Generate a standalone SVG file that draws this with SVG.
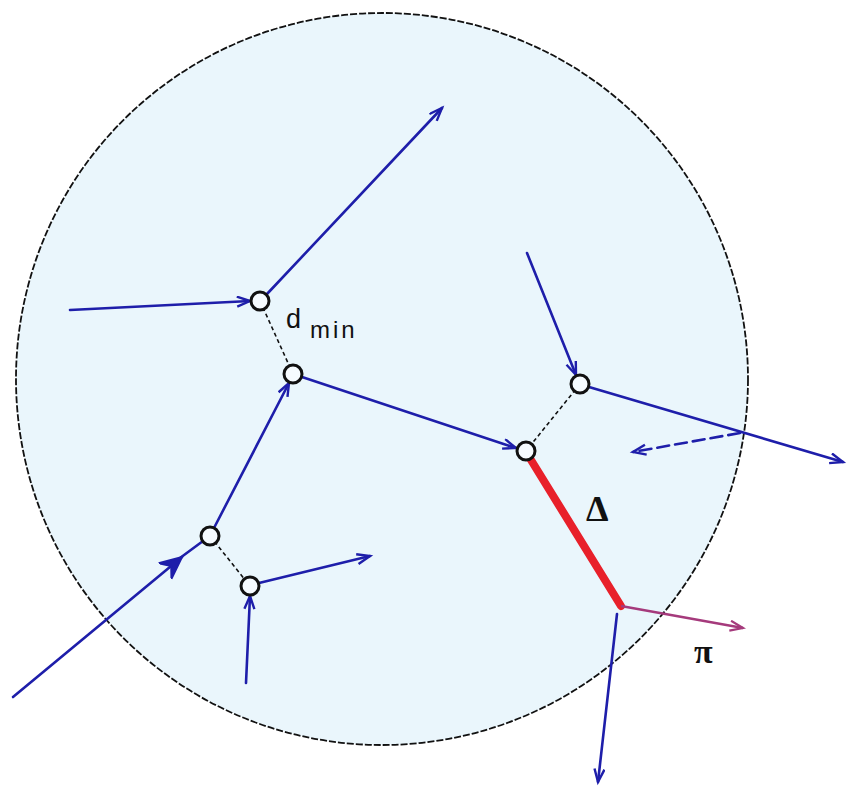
<svg xmlns="http://www.w3.org/2000/svg" width="848" height="787" viewBox="0 0 848 787">
<style>
.blue{stroke:#1e1eaa;stroke-width:2.6;fill:none;stroke-linecap:round}
.dash{stroke:#111;stroke-width:1.6;stroke-dasharray:4 3;fill:none}
.node{fill:#f6fbff;stroke:#111;stroke-width:3}
.lbl{font-family:"Liberation Sans",Arial,sans-serif;fill:#111}
.sym{font-family:"Liberation Serif","Times New Roman",serif;font-weight:bold;fill:#111}
</style>
<defs>
<marker id="ab" markerUnits="userSpaceOnUse" markerWidth="20" markerHeight="16" refX="14" refY="6" orient="auto">
<path d="M1,1 L14,6 L1,11" fill="none" stroke="#1e1eaa" stroke-width="2.4"/>
</marker>
<marker id="abb" markerUnits="userSpaceOnUse" markerWidth="30" markerHeight="26" refX="22" refY="12" orient="auto">
<path d="M0,2 L22,12 L0,22 L8,12 Z" fill="#1e1eaa" stroke="#1e1eaa" stroke-width="2"/>
</marker>
<marker id="ap" markerUnits="userSpaceOnUse" markerWidth="20" markerHeight="16" refX="14" refY="6" orient="auto">
<path d="M1,1 L14,6 L1,11" fill="none" stroke="#a53a7c" stroke-width="2.2"/>
</marker>
</defs>
<circle id="region" cx="382" cy="379" r="366" fill="#eaf6fc" stroke="#111" stroke-width="1.8" stroke-dasharray="7 2"/>
<g id="connectors">
<line class="dash" x1="260" y1="301" x2="293" y2="374"/>
<line class="dash" x1="580" y1="384" x2="526" y2="451"/>
<line class="dash" x1="210" y1="536" x2="250" y2="586"/>
<line class="blue" x1="70" y1="310" x2="250" y2="301" marker-end="url(#ab)"/>
<line class="blue" x1="267" y1="294" x2="442" y2="108" marker-end="url(#ab)"/>
<line class="blue" x1="302" y1="377" x2="516" y2="448" marker-end="url(#ab)"/>
<line class="blue" x1="214" y1="528" x2="289" y2="383" marker-end="url(#ab)"/>
<line class="blue" x1="13" y1="697" x2="182" y2="557" marker-end="url(#abb)"/>
<line class="blue" x1="180" y1="558" x2="203" y2="541"/>
<line class="blue" x1="259" y1="583" x2="370" y2="556" marker-end="url(#ab)"/>
<line class="blue" x1="246" y1="683" x2="250" y2="596" marker-end="url(#ab)"/>
<line class="blue" x1="527" y1="253" x2="576" y2="375" marker-end="url(#ab)"/>
<line class="blue" x1="589" y1="387" x2="843" y2="462" marker-end="url(#ab)"/>
<line class="blue" x1="740" y1="433" x2="633" y2="452" stroke-dasharray="12 6" marker-end="url(#ab)"/>
<line x1="531" y1="460" x2="621" y2="606" stroke="#e8202a" stroke-width="8" stroke-linecap="round"/>
<line x1="621" y1="606" x2="743" y2="628" stroke="#a53a7c" stroke-width="2.4" marker-end="url(#ap)"/>
<line class="blue" x1="617" y1="614" x2="598" y2="782" marker-end="url(#ab)"/>
</g>
<g id="nodeA"><circle class="node" cx="260" cy="301" r="9"/></g>
<g id="nodeB"><circle class="node" cx="293" cy="374" r="9"/></g>
<g id="nodeC"><circle class="node" cx="580" cy="384" r="9"/></g>
<g id="nodeD"><circle class="node" cx="526" cy="451" r="9"/></g>
<g id="nodeE"><circle class="node" cx="210" cy="536" r="9"/></g>
<g id="nodeF"><circle class="node" cx="250" cy="586" r="9"/></g>
<g id="labels">
<text class="lbl" x="286" y="328" font-size="27">d</text>
<text class="lbl" x="310" y="338" font-size="24" letter-spacing="3">min</text>
<text class="sym" x="586" y="521" font-size="36">Δ</text>
<text class="sym" x="694" y="663" font-size="34">π</text>
</g>
</svg>
